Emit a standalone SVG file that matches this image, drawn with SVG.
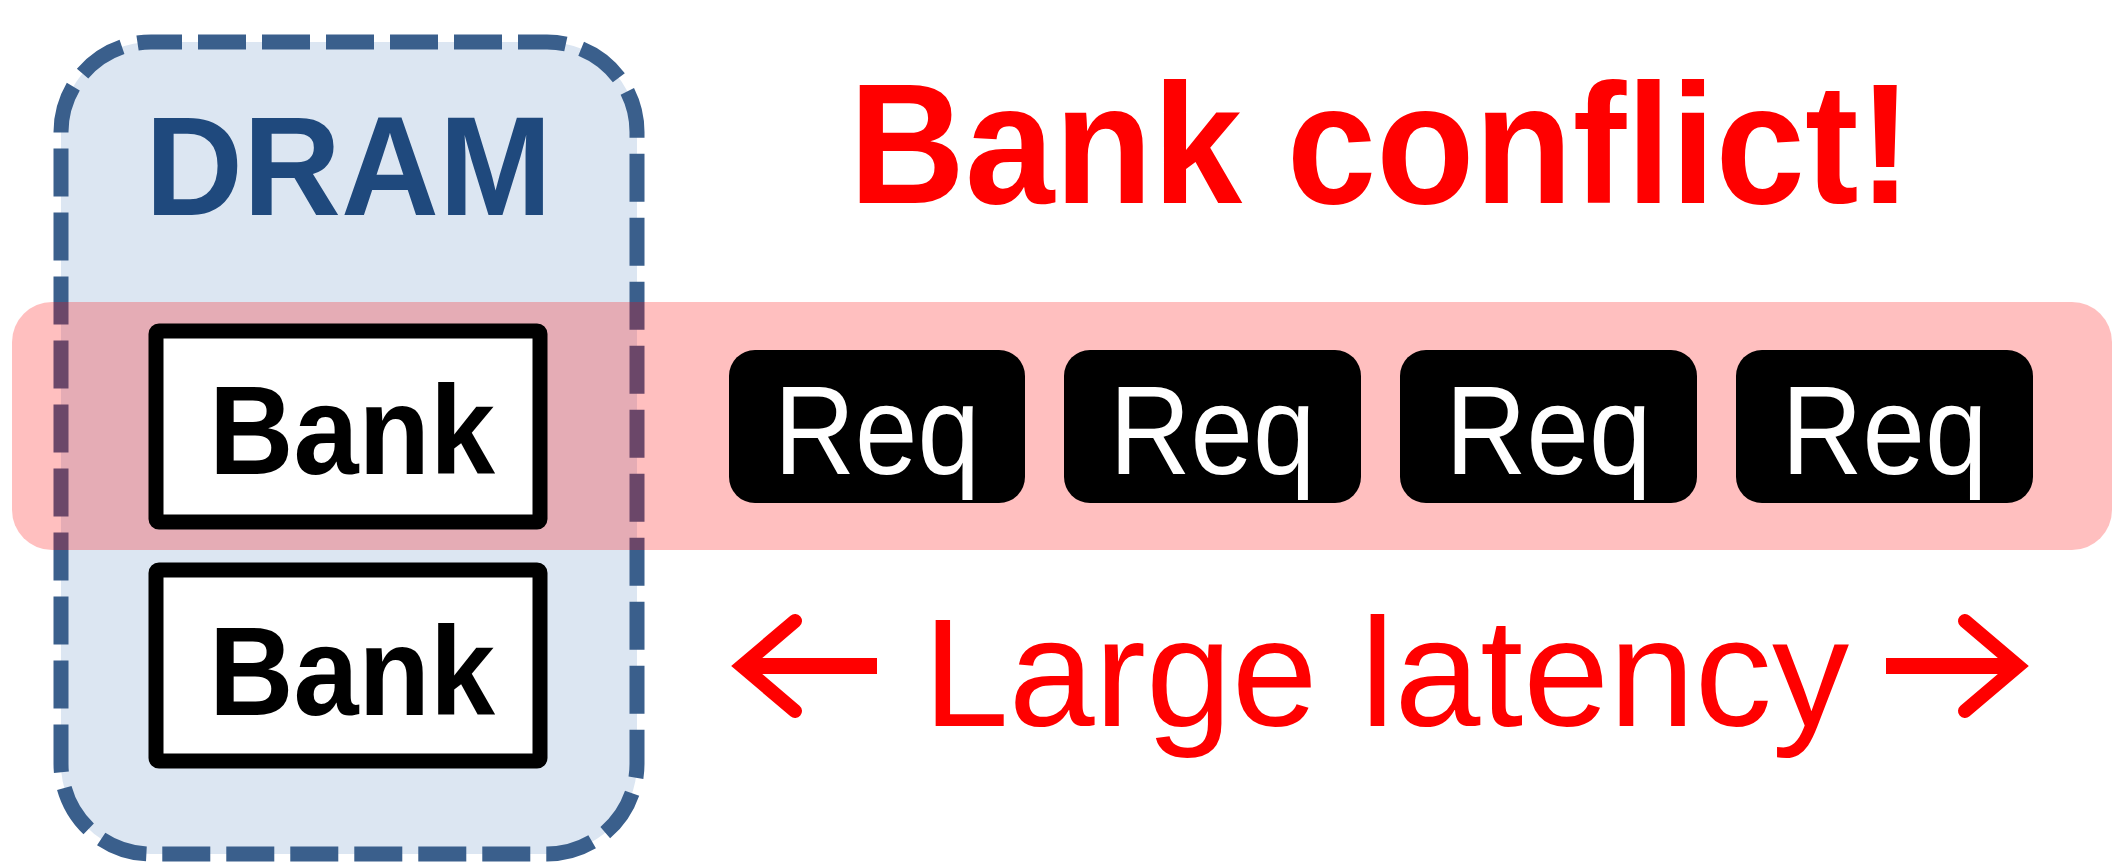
<svg xmlns="http://www.w3.org/2000/svg" width="2116" height="862" viewBox="0 0 2116 862">
<style>
.bank-box{fill:#FFFFFF;stroke:#000000;stroke-width:15;stroke-linejoin:round}
.bank-txt{font-family:"Liberation Sans",Arial,sans-serif;font-weight:bold;font-size:127px;fill:#000000;text-anchor:middle}
.req-box{fill:#000000}
.req-txt{font-family:"Liberation Sans",Arial,sans-serif;font-size:127px;fill:#FFFFFF;text-anchor:middle}
.red-txt{font-family:"Liberation Sans",Arial,sans-serif;fill:#FF0000;text-anchor:middle}
.arr{fill:none;stroke:#FF0000}
</style>
<rect width="2116" height="862" fill="#FFFFFF"/>
<g id="dram">
<rect x="61" y="42" width="576" height="812" rx="90" ry="90" fill="#DCE6F2" stroke="#3A5F8C" stroke-width="15" stroke-dasharray="48 16" stroke-dashoffset="17"/>
</g>
<g id="conflict-band">
<rect x="12" y="302" width="2100" height="248" rx="40" ry="40" fill="#FF0000" fill-opacity="0.25"/>
</g>
<g id="dram-label">
<text x="348.5" y="215" font-family="'Liberation Sans',Arial,sans-serif" font-weight="bold" font-size="141" fill="#1F497D" text-anchor="middle" textLength="407" lengthAdjust="spacingAndGlyphs">DRAM</text>
</g>
<g id="bank1">
<rect class="bank-box" x="156" y="331" width="384" height="191" rx="3"/>
<text class="bank-txt" x="352" y="474" textLength="286" lengthAdjust="spacingAndGlyphs">Bank</text>
</g>
<g id="bank2">
<rect class="bank-box" x="156" y="570" width="384" height="191" rx="3"/>
<text class="bank-txt" x="352" y="715" textLength="286" lengthAdjust="spacingAndGlyphs">Bank</text>
</g>
<g id="req1">
<rect class="req-box" x="729" y="350" width="296" height="153" rx="26"/>
<text class="req-txt" x="877" y="474" textLength="206" lengthAdjust="spacingAndGlyphs">Req</text>
</g>
<g id="req2">
<rect class="req-box" x="1064" y="350" width="297" height="153" rx="26"/>
<text class="req-txt" x="1212.5" y="474" textLength="206" lengthAdjust="spacingAndGlyphs">Req</text>
</g>
<g id="req3">
<rect class="req-box" x="1400" y="350" width="297" height="153" rx="26"/>
<text class="req-txt" x="1548.5" y="474" textLength="206" lengthAdjust="spacingAndGlyphs">Req</text>
</g>
<g id="req4">
<rect class="req-box" x="1736" y="350" width="297" height="153" rx="26"/>
<text class="req-txt" x="1884.5" y="474" textLength="206" lengthAdjust="spacingAndGlyphs">Req</text>
</g>
<g id="title">
<text class="red-txt" x="1380.5" y="203" font-size="170" font-weight="bold" textLength="1063" lengthAdjust="spacingAndGlyphs">Bank conflict!</text>
</g>
<g id="latency-label">
<text class="red-txt" x="1386" y="726" font-size="154" textLength="926" lengthAdjust="spacingAndGlyphs">Large latency</text>
</g>
<g id="connectors">
<line class="arr" x1="748" y1="666" x2="877" y2="666" stroke-width="16"/>
<polyline class="arr" points="795,621 742,666 795,711" stroke-width="14" stroke-linecap="round" stroke-linejoin="miter"/>
<line class="arr" x1="1886" y1="666" x2="2014" y2="666" stroke-width="16"/>
<polyline class="arr" points="1965,621 2018,666 1965,711" stroke-width="14" stroke-linecap="round" stroke-linejoin="miter"/>
</g>
</svg>
